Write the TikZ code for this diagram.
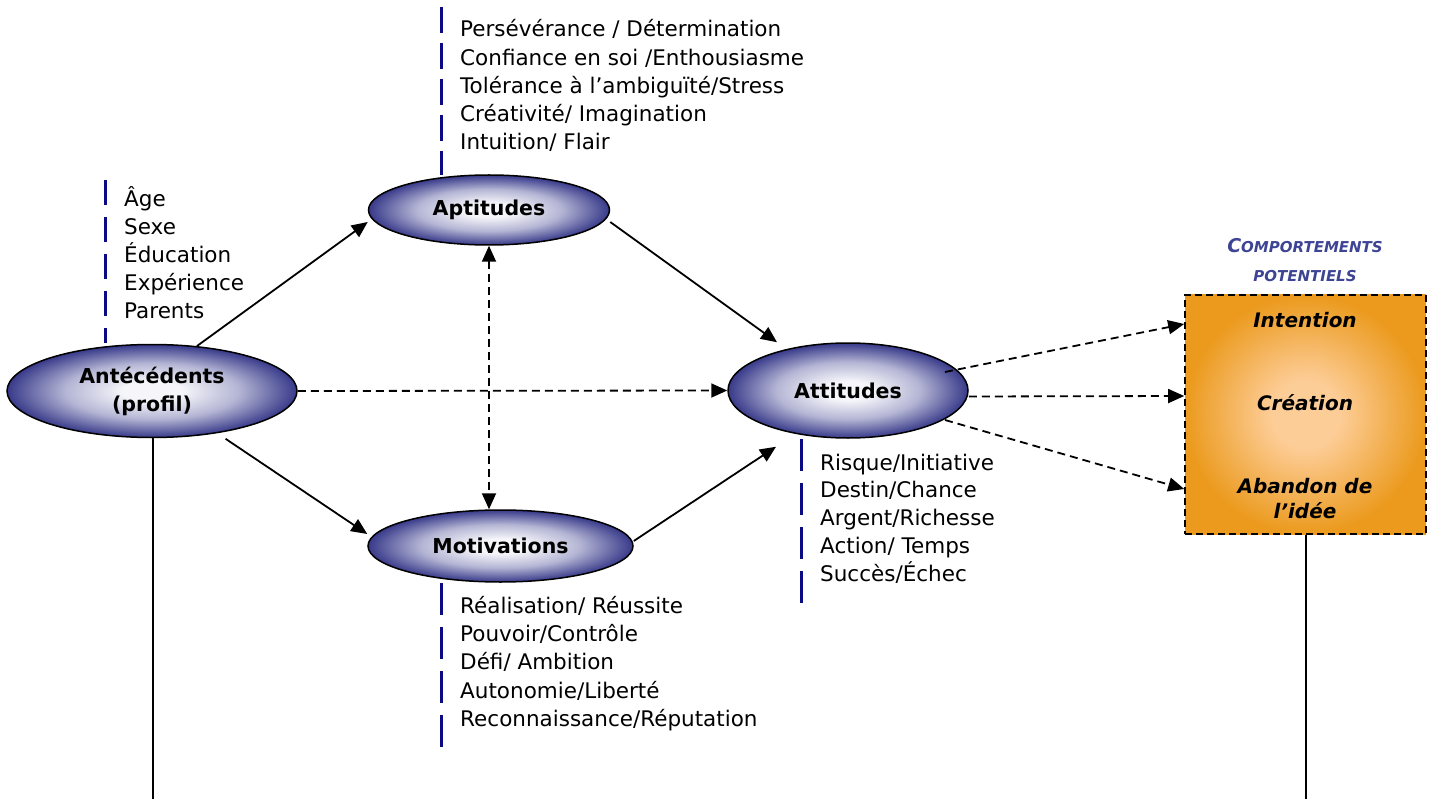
\documentclass[tikz,border=0pt]{standalone}
\usepackage{fontspec}
\setmainfont{DejaVu Sans}
\usetikzlibrary{arrows.meta,shapes.geometric}
\definecolor{ellblue}{HTML}{383A8A}
\definecolor{ellmid}{HTML}{B4B5D4}
\definecolor{ellwhite}{HTML}{F6F6FA}
\definecolor{barblue}{HTML}{0B0B85}
\definecolor{boxorange}{HTML}{EB9A1D}
\definecolor{boxlight}{HTML}{FDCD98}
\definecolor{titleblue}{HTML}{3D4494}
\pgfdeclareradialshading{ellshade}{\pgfpoint{0bp}{0bp}}{color(0bp)=(ellwhite); color(5bp)=(ellwhite); color(15bp)=(ellmid); color(25bp)=(ellblue); color(50bp)=(ellblue)}
\pgfdeclareradialshading{boxshade}{\pgfpoint{0bp}{0bp}}{color(0bp)=(boxlight); color(7bp)=(boxlight); color(25bp)=(boxorange); color(50bp)=(boxorange)}
\tikzset{
  ell/.style={ellipse, draw=black, line width=1.5pt, shading=ellshade, inner sep=0pt,
    font=\bfseries\fontsize{20.5}{28}\selectfont, align=center},
  listtext/.style={anchor=base west, inner sep=0pt, font=\fontsize{21.5}{24}\selectfont},
  boxtext/.style={anchor=base, inner sep=0pt, font=\bfseries\itshape\fontsize{20}{24}\selectfont},
  titletext/.style={anchor=base, inner sep=0pt, text=titleblue, font=\bfseries\itshape},
  bar/.style={barblue, line width=3pt},
  conn/.style={line width=1.8pt, -{Triangle[length=16pt,width=14pt]}},
  dconn/.style={conn, dash pattern=on 8pt off 5pt},
  boxst/.style={rectangle, draw=black, line width=1.6pt, dash pattern=on 7pt off 4pt,
    shading=boxshade, inner sep=0pt},
}
\begin{document}
\begin{tikzpicture}[x=1pt,y=-1pt]
\useasboundingbox (0,0) rectangle (1434,799);
\fill[white] (0,0) rectangle (1434,799);

% ellipses
\node[ell, minimum width=290pt, minimum height=93pt] (ant) at (152,391) {Antécédents\\(profil)};
\node[ell, minimum width=241pt, minimum height=70pt] (apt) at (489,210) {Aptitudes};
\node[ell, minimum width=265pt, minimum height=72pt] (mot) at (500.5,546) {Motivations};
\node[ell, minimum width=240pt, minimum height=95pt] (att) at (848,390.5) {Attitudes};

% outcome box
\node[boxst, minimum width=241pt, minimum height=239pt] (box) at (1305.5,414.5) {};
\node[boxtext] (intention) at (1305,327) {Intention};
\node[boxtext] (creation) at (1305,410) {Création};
\node[boxtext] (abandon) at (1305,493) {Abandon de};
\node[boxtext] (idee) at (1305,518) {l’idée};
\node[titletext] (title1) at (1305,253) {{\fontsize{19}{22}\selectfont C}{\fontsize{15}{18}\selectfont OMPORTEMENTS}};
\node[titletext] (title2) at (1305,282) {\fontsize{15}{18}\selectfont POTENTIELS};

% lists
\foreach \t [count=\i] in {Âge,Sexe,Éducation,Expérience,Parents}
  \node[listtext] (lant\i) at (124,{207+27.8*(\i-1)}) {\t};
\foreach \t [count=\i] in {Persévérance / Détermination,Confiance en soi /Enthousiasme,Tolérance à l’ambiguïté/Stress,Créativité/ Imagination,Intuition/ Flair}
  \node[listtext] (lapt\i) at (460,{37+28.2*(\i-1)}) {\t};
\foreach \t [count=\i] in {Réalisation/ Réussite,Pouvoir/Contrôle,Défi/ Ambition,Autonomie/Liberté,Reconnaissance/Réputation}
  \node[listtext] (lmot\i) at (460,{613+28.4*(\i-1)}) {\t};
\foreach \t [count=\i] in {Risque/Initiative,Destin/Chance,Argent/Richesse,Action/ Temps,Succès/Échec}
  \node[listtext] (latt\i) at (820,{470+27.8*(\i-1)}) {\t};

% blue dashed bars
\draw[bar, dash pattern=on 25pt off 12pt] (105,180) -- (105,343);
\draw[bar, dash pattern=on 26pt off 10pt] (441,7) -- (441,175);
\draw[bar, dash pattern=on 32pt off 12pt] (441,583) -- (441,747);
\draw[bar, dash pattern=on 32pt off 12pt] (801,439) -- (801,603);

% connectors
\draw[conn] (ant.45) -- ([yshift=-12pt]apt.west);
\draw[conn] ([yshift=-7pt]ant.-29) -- ([yshift=12pt]mot.west);
\draw[dconn] (ant.east) -- (att.west);
\draw[dconn, {Triangle[length=16pt,width=14pt]}-{Triangle[length=16pt,width=14pt]}] (apt.south) -- ([xshift=-11.5pt]mot.north);
\draw[conn] ([yshift=-12pt]apt.east) -- ([xshift=-71pt]att.north);
\draw[conn] ([yshift=5pt]mot.east) -- ([shift={(-72pt,-8pt)}]att.south);
\draw[dconn] ([shift={(97pt,18.5pt)}]att.center) -- ([yshift=90.5pt]box.west);
\draw[dconn] ([yshift=-6pt]att.east) -- ([yshift=18.5pt]box.west);
\draw[dconn] ([shift={(97pt,-29.5pt)}]att.center) -- ([yshift=-74.5pt]box.west);

% bottom lines
\coordinate (antend) at (153,799);
\coordinate (boxend) at (1306,799);
\draw[line width=1.8pt] (ant.south -| antend) -- (antend);
\draw[line width=1.8pt] (box.south -| boxend) -- (boxend);
\end{tikzpicture}
\end{document}
